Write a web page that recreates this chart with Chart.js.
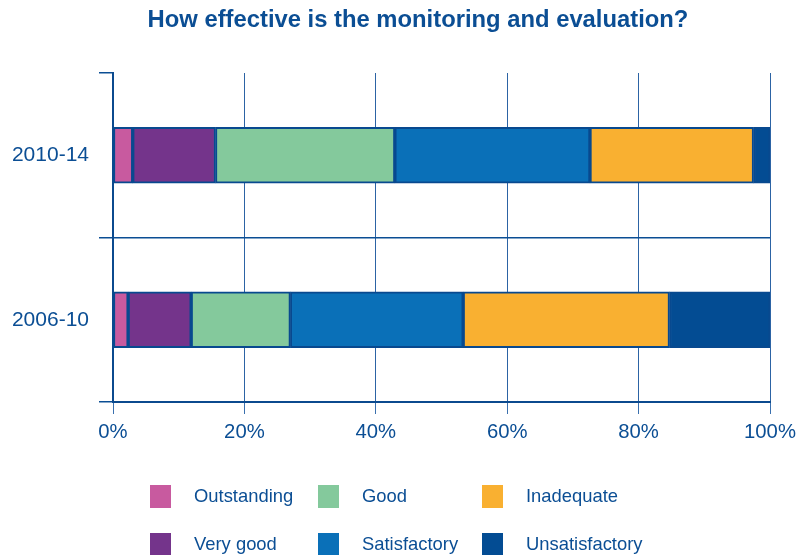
<!DOCTYPE html>
<html>
<head>
<meta charset="utf-8">
<script src="https://cdn.jsdelivr.net/npm/chart.js@4/dist/chart.umd.min.js"></script>
<style>
  html, body { margin: 0; padding: 0; background: #fff; }
  #wrap { position: relative; width: 800px; height: 555px; }
  #title { position: absolute; left: 118px; width: 600px; top: 5px; line-height: 28px; text-align: center;
           font-family: "Liberation Sans", Arial, sans-serif; font-weight: bold; font-size: 23.8px; color: #0B4E94; }
  #legend { position: absolute; left: 0; top: 0; width: 800px; height: 555px; pointer-events: none;
            font-family: "Liberation Sans", Arial, sans-serif; font-size: 18.4px; color: #0B4E94; }
  .item { position: absolute; height: 24px; display: flex; align-items: center; }
  .box { width: 21px; height: 23px; margin-right: 23px; flex: none; }
</style>
</head>
<body>
<div id="wrap">
  <canvas id="c" width="800" height="555"></canvas>
  <div id="title"></div>
  <div id="legend"></div>
</div>
<script>
const titleText = "How effective is the monitoring and evaluation?";
const categories = ["2010-14", "2006-10"];
const seriesNames = ["Outstanding", "Very good", "Good", "Satisfactory", "Inadequate", "Unsatisfactory"];
const outstanding    = [3.0, 2.3];
const veryGood       = [12.6, 9.6];
const good           = [27.3, 15.1];
const satisfactory   = [29.7, 26.3];
const inadequate     = [24.9, 31.4];
const unsatisfactory = [2.5, 15.3];
const xTickValues = [0, 20, 40, 60, 80, 100];

const seriesValues = [outstanding, veryGood, good, satisfactory, inadequate, unsatisfactory];
const colors = ["#C85A9F", "#74348B", "#84C99C", "#0A70B8", "#F9B031", "#034C93"];
const textColor = "#0B4E94";
const lineColor = "#0B4A8E";

document.getElementById("title").textContent = titleText;

const datasets = seriesNames.map((name, i) => ({
  label: name,
  data: seriesValues[i],
  backgroundColor: colors[i],
  borderColor: "#08498F",
  borderWidth: 2,
  borderSkipped: false,
  barThickness: 56
}));

new Chart(document.getElementById("c"), {
  type: "bar",
  data: { labels: categories, datasets },
  options: {
    indexAxis: "y",
    responsive: false,
    animation: false,
    layout: { padding: { left: 0, right: 0, top: 73, bottom: 108 } },
    plugins: {
      legend: { display: false },
      tooltip: { enabled: false },
      title: { display: false }
    },
    scales: {
      x: {
        stacked: true,
        min: 0, max: 100,
        afterBuildTicks: (s) => { s.ticks = xTickValues.map(v => ({ value: v })); },
        afterFit: (s) => { s.height = 45; s.paddingLeft = 0; s.paddingRight = 30; },
        ticks: {
          callback: (v) => v + "%",
          color: textColor,
          font: { family: "Liberation Sans", size: 20.3 },
          padding: 6,
          maxRotation: 0
        },
        grid: { color: "#2C63A4", lineWidth: 1, tickLength: 12, tickColor: "#3A70AE" },
        border: { color: lineColor, width: 2 }
      },
      y: {
        stacked: true,
        afterFit: (s) => { s.width = 113; s.paddingTop = 0; s.paddingBottom = 0; },
        ticks: {
          color: textColor,
          font: { family: "Liberation Sans", size: 21 },
          padding: 10
        },
        grid: {
          offset: true,
          color: (ctx) => ctx.index === 0 ? "rgba(0,0,0,0)" : "#0B4E94",
          tickColor: "#0B4E94",
          lineWidth: 1.5,
          tickLength: 14
        },
        border: { color: lineColor, width: 2 }
      }
    }
  }
});

// HTML legend, column-major (2 rows x 3 columns)
const legend = document.getElementById("legend");
const colX = [150, 318, 482];
const rowY = [484, 532];
seriesNames.forEach((name, i) => {
  const col = Math.floor(i / 2), row = i % 2;
  const el = document.createElement("div");
  el.className = "item";
  el.style.left = colX[col] + "px";
  el.style.top = rowY[row] + "px";
  const box = document.createElement("span");
  box.className = "box";
  box.style.background = colors[i];
  const t = document.createElement("span");
  t.textContent = name;
  el.appendChild(box);
  el.appendChild(t);
  legend.appendChild(el);
});
</script>
</body>
</html>
